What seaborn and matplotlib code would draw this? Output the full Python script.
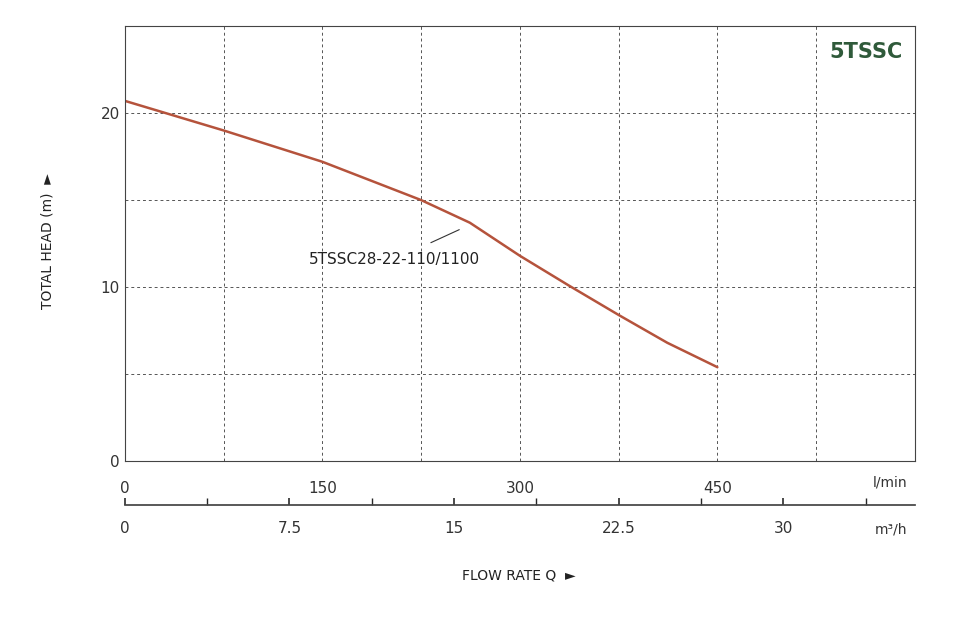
import matplotlib
matplotlib.use("Agg")
import matplotlib.pyplot as plt
import matplotlib.ticker as mticker
import seaborn as sns
import pandas as pd

flow_lpm = [0, 75, 150, 225, 262, 300, 337, 375, 412, 450]
head_m = [20.7, 19.0, 17.2, 15.0, 13.7, 11.8, 10.1, 8.4, 6.8, 5.4]
x_ticks = [0, 150, 300, 450]
m3h_ticks = [0, 7.5, 15, 22.5, 30]
curve_label = "5TSSC28-22-110/1100"

sns.set_theme(style="white")
plt.rcParams['font.family'] = ['DejaVu Sans']
fig = plt.figure(figsize=(9.6, 6.19), dpi=100)
ax = fig.add_axes([0.130, 0.255, 0.823, 0.703])
df = pd.DataFrame({"Q": flow_lpm, "H": head_m})
sns.lineplot(data=df, x="Q", y="H", ax=ax, color="#b5533c", linewidth=1.8)
ax.set_xlim(0, 600)
ax.set_ylim(0, 25)
ax.set_xticks(range(0, 601, 75), minor=True)
ax.set_xticks(x_ticks)
ax.set_yticks([0, 10, 20])
ax.set_yticks(range(0, 26, 5), minor=True)
ax.grid(True, which="both", color="#555555", linestyle=(0, (3, 3)), linewidth=0.7)
ax.tick_params(axis="both", which="major", labelsize=11, colors="#333333", length=0)
ax.tick_params(axis="x", which="major", pad=14)
ax.tick_params(axis="both", which="minor", length=0)
for s in ax.spines.values():
    s.set_color("#444444"); s.set_linewidth(0.8)
ax.set_xlabel(""); ax.set_ylabel("")
ax.text(0.99, -0.05, "l/min", transform=ax.transAxes, ha="right", va="center", fontsize=10, color="#333333")

sec = ax.secondary_xaxis(-0.10, functions=(lambda q: q * 0.06, lambda m: m / 0.06))
sec.set_xticks(m3h_ticks)
sec.xaxis.set_major_formatter(mticker.FuncFormatter(lambda v, p: f"{v:g}"))
sec.set_xticks([3.75 * i for i in range(10)], minor=True)
sec.tick_params(which="major", length=5, direction="in", labelsize=11, colors="#333333", pad=12)
sec.tick_params(which="minor", length=5, direction="in")
sec.spines["bottom"].set_color("#444444")
ax.text(0.99, -0.158, "m³/h", transform=ax.transAxes, ha="right", va="center", fontsize=10, color="#333333")

ax.annotate(curve_label, xy=(254, 13.3), xytext=(205, 11.6), ha="center", va="center",
            fontsize=11, color="#222222", arrowprops=dict(arrowstyle="-", color="#333333", lw=0.8,
            shrinkA=10, shrinkB=0))
ax.text(0.985, 0.94, "5TSSC", transform=ax.transAxes, ha="right", va="center",
        fontsize=15, fontweight="bold", color="#2f5a3a")
fig.text(0.05, 0.61, "TOTAL HEAD (m)  ►", rotation=90, ha="center", va="center", fontsize=10, color="#222222")
fig.text(0.54, 0.071, "FLOW RATE Q  ►", ha="center", va="center", fontsize=10, color="#222222")
fig.savefig("out.png", dpi=100)
